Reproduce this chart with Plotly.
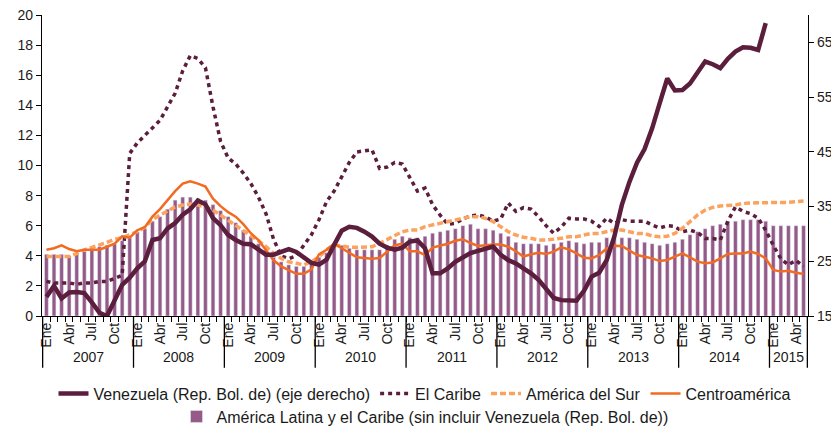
import plotly.graph_objects as go

# Eje temporal: enero 2007 a mayo 2015
meses = ['Ene', 'Feb', 'Mar', 'Abr', 'May', 'Jun', 'Jul', 'Ago', 'Sep', 'Oct', 'Nov', 'Dic']
años = [2007, 2008, 2009, 2010, 2011, 2012, 2013, 2014, 2015]
meses_por_año = [12, 12, 12, 12, 12, 12, 12, 12, 5]
meses_rotulados = ['Ene', 'Abr', 'Jul', 'Oct']

# América Latina y el Caribe (sin incluir Venezuela), eje izquierdo
alc = [4.1, 4.1, 4.1, 4.0, 4.1, 4.3, 4.4, 4.6, 4.7, 4.8, 5.0, 5.2,
       5.6, 5.8, 6.3, 6.6, 7.1, 7.7, 7.9, 7.9, 7.8, 7.7, 7.4, 7.0,
       6.6, 6.2, 5.7, 5.3, 4.8, 4.4, 3.9, 3.6, 3.4, 3.3, 3.3, 3.5,
       3.9, 4.2, 4.6, 4.7, 4.5, 4.4, 4.4, 4.4, 4.4, 4.7, 5.1, 5.3,
       5.2, 5.2, 5.3, 5.5, 5.6, 5.7, 5.8, 6.0, 6.1, 5.8, 5.8, 5.7,
       5.5, 5.3, 4.9, 4.8, 4.8, 4.8, 4.7, 4.8, 4.9, 5.0, 4.9, 4.8,
       4.9, 4.9, 5.2, 5.2, 5.2, 5.2, 5.1, 4.9, 4.8, 4.7, 4.8, 4.9,
       5.1, 5.4, 5.6, 5.8, 6.0, 6.1, 6.3, 6.3, 6.4, 6.4, 6.4, 6.3,
       6.0, 6.0, 6.0, 6.0, 6.0]

# Venezuela (Rep. Bol. de), eje derecho
venezuela = [18.5, 20.5, 18.2, 19.3, 19.4, 19.2, 17.5, 15.6, 15.0, 17.8, 20.7, 22.0,
             23.7, 25.0, 28.9, 29.2, 31.0, 32.0, 33.5, 34.5, 36.1, 35.4, 32.9, 31.6,
             29.8, 28.9, 28.2, 28.1, 27.1, 26.2, 26.2, 26.8, 27.2, 26.7, 25.8, 24.7,
             24.4, 25.3, 28.0, 30.6, 31.3, 31.1, 30.4, 29.5, 28.2, 27.5, 27.1, 27.5,
             28.6, 28.8, 27.4, 22.8, 22.8, 23.7, 24.9, 25.8, 26.5, 26.9, 27.4, 27.7,
             26.2, 25.2, 24.6, 23.7, 22.8, 21.6, 20.0, 18.3, 17.9, 17.9, 17.8, 19.6,
             22.2, 22.9, 25.2, 29.5, 35.3, 39.5, 43.0, 45.5, 49.3, 53.9, 58.4, 56.2,
             56.3, 57.5, 59.5, 61.5, 61.0, 60.3, 62.0, 63.3, 64.1, 64.0, 63.6, 68.5,
             None, None, None, None, None]

el_caribe = [2.3, 2.2, 2.2, 2.2, 2.1, 2.2, 2.2, 2.3, 2.3, 2.5, 2.7, 10.8,
             11.5, 12.0, 12.5, 13.0, 13.9, 14.8, 16.3, 17.3, 17.1, 16.5, 13.9, 11.6,
             10.5, 10.1, 9.5, 8.8, 7.9, 6.8, 5.1, 4.0, 3.8, 4.0, 4.7, 5.4,
             6.4, 7.6, 8.3, 9.2, 10.2, 10.9, 11.0, 11.05, 9.8, 9.9, 10.2, 10.1,
             9.2, 8.3, 8.5, 7.4, 6.7, 6.1, 6.15, 6.45, 6.65, 6.7, 6.6, 6.3,
             6.45, 7.5, 6.95, 7.2, 7.1, 6.6, 6.0, 5.5, 5.9, 6.5, 6.45, 6.45,
             6.3, 5.95, 6.5, 6.15, 6.4, 6.3, 6.3, 6.3, 6.05, 5.85, 6.0, 5.95,
             5.6, 5.7, 5.55, 5.15, 5.15, 5.05, 6.3, 7.25, 6.95, 6.8, 6.5, 5.7,
             4.7, 3.8, 3.4, 3.7, 3.3]

america_del_sur = [3.95, 3.95, 3.9, 3.95, 4.15, 4.4, 4.55, 4.7, 4.9, 5.1, 5.2, 5.4,
                   5.6, 5.9, 6.4, 6.7, 7.0, 7.25, 7.37, 7.44, 7.37, 7.26, 7.04, 6.71,
                   6.38, 6.05, 5.71, 5.38, 5.0, 4.61, 4.16, 3.83, 3.6, 3.5, 3.4, 3.6,
                   3.94, 4.4, 4.72, 4.65, 4.56, 4.56, 4.56, 4.6, 4.83, 5.1, 5.32, 5.6,
                   5.71, 5.71, 5.94, 6.05, 6.16, 6.27, 6.38, 6.49, 6.6, 6.6, 6.49, 6.27,
                   5.94, 5.6, 5.38, 5.23, 5.16, 5.05, 5.05, 5.1, 5.16, 5.27, 5.27, 5.38,
                   5.49, 5.49, 5.6, 5.71, 5.71, 5.6, 5.49, 5.49, 5.32, 5.27, 5.3, 5.49,
                   5.83, 6.27, 6.71, 7.04, 7.22, 7.31, 7.35, 7.38, 7.48, 7.53, 7.53, 7.53,
                   7.53, 7.55, 7.55, 7.6, 7.64]

centroamerica = [4.4, 4.5, 4.7, 4.45, 4.3, 4.4, 4.4, 4.4, 4.6, 4.8, 5.3, 5.2,
                 5.7, 5.9, 6.6, 7.1, 7.7, 8.3, 8.8, 8.95, 8.8, 8.6, 7.8, 7.3,
                 6.9, 6.6, 6.1, 5.5, 5.05, 4.4, 3.7, 3.3, 3.05, 2.8, 2.8, 3.1,
                 4.1, 4.4, 4.8, 4.5, 4.15, 3.9, 3.85, 3.8, 3.85, 4.3, 4.7, 4.8,
                 4.3, 4.3, 4.05, 4.55, 4.65, 4.8, 5.0, 5.1, 4.85, 4.65, 4.7, 4.75,
                 4.75, 4.6, 4.3, 3.95, 4.1, 4.2, 4.12, 4.28, 4.56, 4.43, 4.16, 3.87,
                 3.83, 4.05, 4.5, 4.67, 4.65, 4.34, 4.05, 3.94, 3.83, 3.65, 3.72, 3.94,
                 4.16, 3.9, 3.61, 3.5, 3.56, 3.83, 4.12, 4.16, 4.16, 4.28, 4.12, 3.83,
                 3.06, 2.95, 3.0, 2.88, 2.79]

# Categorías del eje x y rótulos
categorias = []
rotulos = []
años_cat = []
for año, n in zip(años, meses_por_año):
    for m in meses[:n]:
        categorias.append(f'{m} {año}')
        rotulos.append(m if m in meses_rotulados else '')
        años_cat.append(año)

color_vzla = '#5B1E3C'
fuente = 'Liberation Sans, Arial, sans-serif'

fig = go.Figure()

fig.add_trace(go.Bar(
    x=categorias, y=alc,
    name='América Latina y el Caribe (sin incluir Venezuela (Rep. Bol. de))',
    marker_color='#955A88', width=0.5,
    legend='legend2'
))

fig.add_trace(go.Scatter(
    x=categorias, y=venezuela,
    name='Venezuela (Rep. Bol. de) (eje derecho)',
    mode='lines', yaxis='y2',
    line=dict(color=color_vzla, width=4.5)
))

fig.add_trace(go.Scatter(
    x=categorias, y=el_caribe,
    name='El Caribe', mode='lines',
    line=dict(color=color_vzla, width=3.5, dash='4px,4px')
))

fig.add_trace(go.Scatter(
    x=categorias, y=america_del_sur,
    name='América del Sur', mode='lines',
    line=dict(color='#FBA35E', width=3.5, dash='6px,3px')
))

fig.add_trace(go.Scatter(
    x=categorias, y=centroamerica,
    name='Centroamérica', mode='lines',
    line=dict(color='#F26B22', width=2.5)
))

# Separadores y rótulos de años
formas = []
anotaciones = []
for año in años:
    idx = [i for i, a in enumerate(años_cat) if a == año]
    formas.append(dict(type='line', xref='x', yref='paper',
                       x0=idx[0] - 0.5, x1=idx[0] - 0.5, y0=0, y1=-0.172,
                       line=dict(color='black', width=1.3)))
    anotaciones.append(dict(x=(idx[0] + idx[-1]) / 2, y=-0.137, xref='x', yref='paper',
                            text=str(año), showarrow=False, yanchor='middle',
                            font=dict(size=14, family=fuente, color='#1a1a1a')))
formas.append(dict(type='line', xref='x', yref='paper',
                   x0=len(categorias) - 0.5, x1=len(categorias) - 0.5, y0=0, y1=-0.172,
                   line=dict(color='black', width=1.3)))

# La página añade 8 px de margen al cuerpo: la figura se reduce en la misma medida
fig.update_layout(
    width=831, height=423,
    margin=dict(l=34, r=31, t=7, b=115, autoexpand=False),
    plot_bgcolor='white', paper_bgcolor='white',
    font=dict(family=fuente, size=14, color='#1a1a1a'),
    showlegend=True,
    xaxis=dict(
        type='category', tickmode='array', tickvals=categorias, ticktext=rotulos,
        tickangle=-90, tickson='boundaries', ticks='outside', ticklen=5,
        tickcolor='black', showline=True, linecolor='black', linewidth=1.3,
        showgrid=False, tickfont=dict(size=14), automargin=False
    ),
    yaxis=dict(
        range=[0, 20], tickmode='array', tickvals=list(range(0, 21, 2)),
        ticks='outside', ticklen=5, tickcolor='black', ticklabeloverflow='allow',
        showline=True, linecolor='black', linewidth=1.3, showgrid=False,
        zeroline=False, tickfont=dict(size=14), automargin=False
    ),
    yaxis2=dict(
        overlaying='y', side='right', range=[15, 70],
        tickvals=[15, 25, 35, 45, 55, 65], ticks='outside', ticklen=5,
        tickcolor='black', showline=True, linecolor='black', linewidth=1.3,
        showgrid=False, zeroline=False, tickfont=dict(size=14), automargin=False
    ),
    legend=dict(orientation='h', x=0.5, xanchor='center',
                y=-0.258, yanchor='middle', bgcolor='rgba(0,0,0,0)',
                font=dict(size=16), itemwidth=30),
    legend2=dict(orientation='h', x=0.5, xanchor='center',
                 y=-0.334, yanchor='middle', bgcolor='rgba(0,0,0,0)',
                 font=dict(size=16), itemwidth=30),
    shapes=formas,
    annotations=anotaciones,
    bargap=0.5
)

fig.write_html("out.html")
